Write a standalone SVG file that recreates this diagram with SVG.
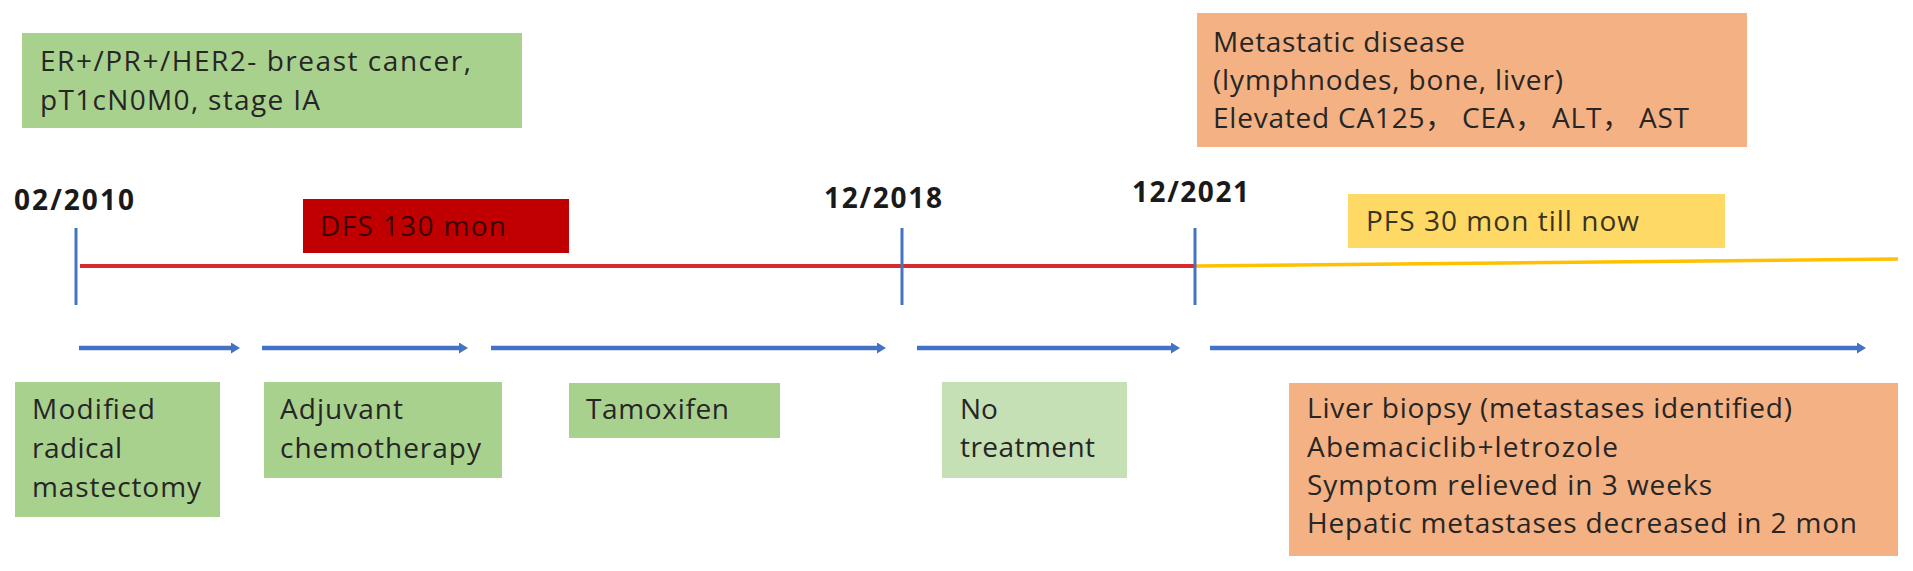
<svg xmlns="http://www.w3.org/2000/svg" width="1913" height="571" viewBox="0 0 1913 571">
<style>
text{font-family:"Open Sans","Noto Sans","Noto Sans CJK SC",sans-serif;font-size:28px;fill:#262626}
.date{font-weight:bold;fill:#1a1a1a}
.green{fill:#a9d18e}
.lgreen{fill:#c5e0b4}
.orange{fill:#f4b183}
.yellow{fill:#ffd966}
.dred{fill:#c00000}
.tick{stroke:#4472c4;stroke-width:3}
.flow{stroke:#4472c4;stroke-width:4.5;marker-end:url(#ah)}
</style>
<defs>
<marker id="ah" markerUnits="userSpaceOnUse" markerWidth="9" markerHeight="11" refX="4" refY="5.5" orient="auto" viewBox="0 0 9 11">
<path d="M0,0 L9,5.5 L0,11 z" fill="#4472c4"/>
</marker>
</defs>
<g id="connectors">
<line x1="80" y1="266" x2="1195" y2="266" stroke="#d92b2b" stroke-width="4"/>
<line x1="1195" y1="266" x2="1898" y2="259" stroke="#ffc000" stroke-width="3.5"/>
<line class="tick" x1="76" y1="228" x2="76" y2="305"/>
<line class="tick" x1="902" y1="228" x2="902" y2="305"/>
<line class="tick" x1="1195" y1="228" x2="1195" y2="305"/>
<line class="flow" x1="79" y1="348" x2="235" y2="348"/>
<line class="flow" x1="262" y1="348" x2="463" y2="348"/>
<line class="flow" x1="491" y1="348" x2="881" y2="348"/>
<line class="flow" x1="917" y1="348" x2="1175" y2="348"/>
<line class="flow" x1="1210" y1="348" x2="1861" y2="348"/>
</g>
<g id="diagnosis">
<rect class="green" x="22" y="33" width="500" height="95"/>
<text x="40" y="71" textLength="431">ER+/PR+/HER2- breast cancer,</text>
<text x="40" y="110" textLength="280">pT1cN0M0, stage IA</text>
</g>
<g id="date-2010"><text class="date" x="14" y="210" textLength="120">02/2010</text></g>
<g id="date-2018"><text class="date" x="824" y="208" textLength="118">12/2018</text></g>
<g id="date-2021"><text class="date" x="1132" y="202" textLength="117">12/2021</text></g>
<g id="dfs">
<rect class="dred" x="303" y="199" width="266" height="54"/>
<text x="320" y="236" textLength="186" style="fill:#3a0505">DFS 130 mon</text>
</g>
<g id="pfs">
<rect class="yellow" x="1348" y="194" width="377" height="54"/>
<text x="1366" y="231" textLength="273" style="fill:#3a3320">PFS 30 mon till now</text>
</g>
<g id="metastatic">
<rect class="orange" x="1197" y="13" width="550" height="134"/>
<text x="1213" y="52" textLength="252">Metastatic disease</text>
<text x="1213" y="90" textLength="350">(lymphnodes, bone, liver)</text>
<text x="1213" y="128" textLength="476">Elevated CA125， CEA， ALT， AST</text>
</g>
<g id="mastectomy">
<rect class="green" x="15" y="382" width="205" height="135"/>
<text x="32" y="419" textLength="123">Modified</text>
<text x="32" y="458" textLength="90">radical</text>
<text x="32" y="497" textLength="169">mastectomy</text>
</g>
<g id="chemotherapy">
<rect class="green" x="264" y="382" width="238" height="96"/>
<text x="280" y="419" textLength="123">Adjuvant</text>
<text x="280" y="458" textLength="201">chemotherapy</text>
</g>
<g id="tamoxifen">
<rect class="green" x="569" y="383" width="211" height="55"/>
<text x="586" y="419" textLength="143">Tamoxifen</text>
</g>
<g id="no-treatment">
<rect class="lgreen" x="942" y="382" width="185" height="96"/>
<text x="960" y="419">No</text>
<text x="960" y="457" textLength="135">treatment</text>
</g>
<g id="treatment">
<rect class="orange" x="1289" y="383" width="609" height="173"/>
<text x="1307" y="418" textLength="485">Liver biopsy (metastases identified)</text>
<text x="1307" y="457" textLength="311">Abemaciclib+letrozole</text>
<text x="1307" y="495" textLength="405">Symptom relieved in 3 weeks</text>
<text x="1307" y="533" textLength="550">Hepatic metastases decreased in 2 mon</text>
</g>
</svg>
